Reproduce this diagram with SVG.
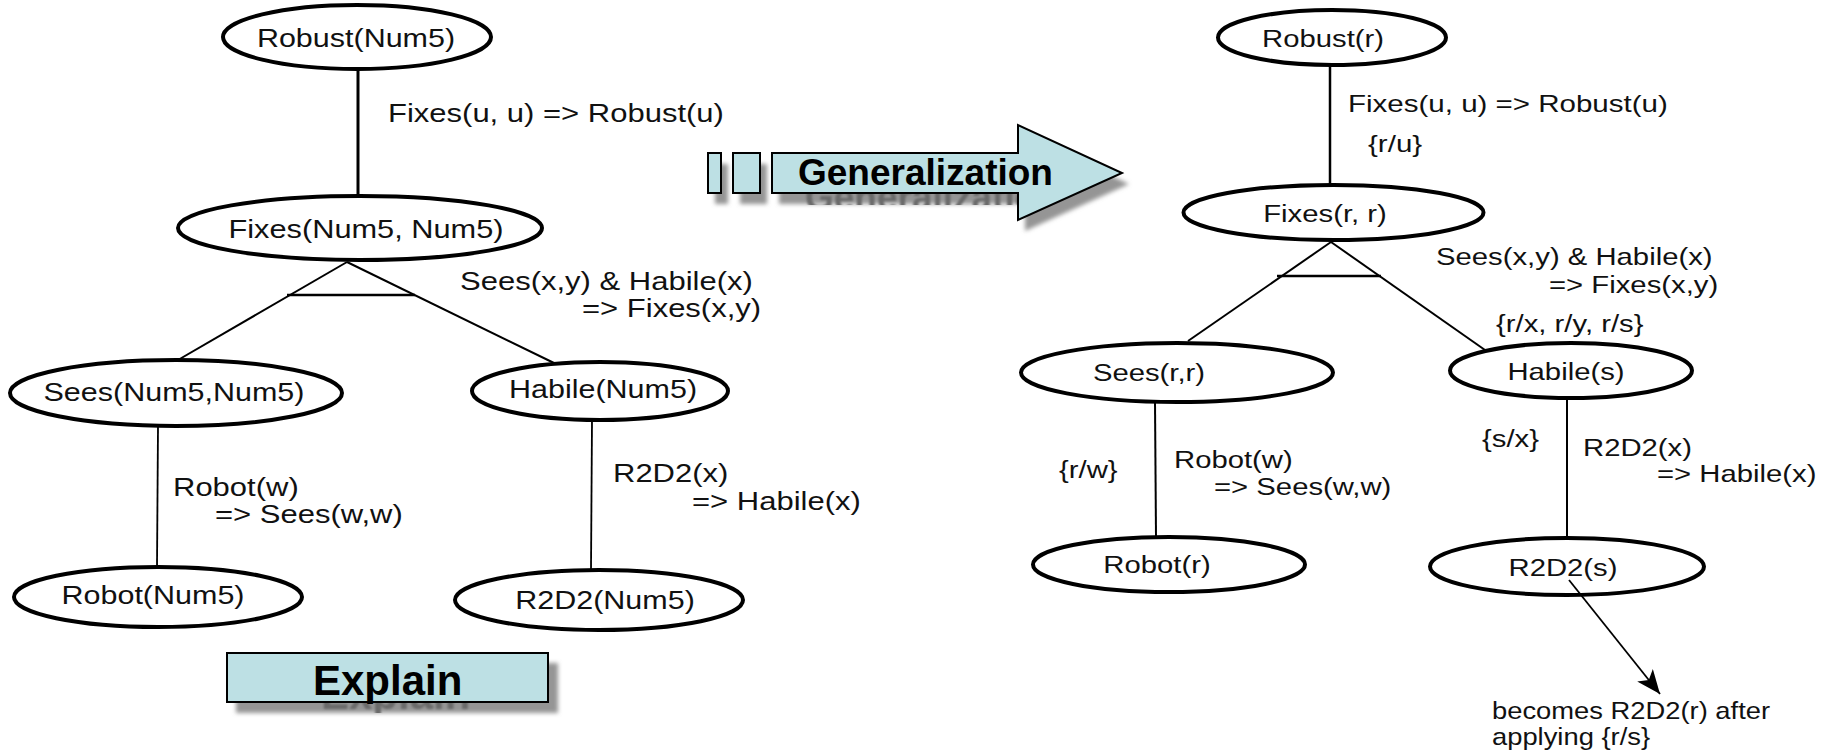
<svg xmlns="http://www.w3.org/2000/svg" width="1828" height="751" viewBox="0 0 1828 751">
<defs>
<style>
.t{font-family:"Liberation Sans",Arial,sans-serif;font-size:25px;fill:#111}
.r{font-size:24px}
.b{font-family:"Liberation Sans",Arial,sans-serif;font-weight:bold;fill:#000}
.node{fill:#fff;stroke:#000;stroke-width:4}
.ln{stroke:#000;fill:none}
.box{fill:#bde0e4;stroke:#000;stroke-width:2}
.sh{fill:#959595}
.gh{fill:#6a6a6a}
</style>
<filter id="blur" x="-10%" y="-30%" width="120%" height="160%"><feGaussianBlur stdDeviation="2"/></filter>
<filter id="soft" x="-5%" y="-30%" width="110%" height="160%"><feGaussianBlur stdDeviation="1"/></filter>
<clipPath id="cg"><rect x="700" y="194" width="330" height="11"/></clipPath>
<clipPath id="ce"><rect x="230" y="703" width="330" height="10"/></clipPath>
<marker id="ah2" viewBox="0 0 24 20" refX="24" refY="10" markerWidth="24" markerHeight="20" markerUnits="userSpaceOnUse" orient="auto"><path d="M0,0 L24,10 L0,20 L6,10 Z" fill="#000"/></marker>
</defs>
<rect width="1828" height="751" fill="#fff"/>

<g id="connectors">
<line class="ln" x1="358" y1="69" x2="358" y2="198" stroke-width="3"/>
<line class="ln" x1="347" y1="262" x2="178" y2="360" stroke-width="2"/>
<line class="ln" x1="347" y1="262" x2="554" y2="363" stroke-width="2"/>
<line class="ln" x1="287" y1="295" x2="415" y2="295" stroke-width="2.5"/>
<line class="ln" x1="158" y1="426" x2="157" y2="567" stroke-width="1.8"/>
<line class="ln" x1="592" y1="420" x2="591" y2="570" stroke-width="1.8"/>

<line class="ln" x1="1330" y1="65" x2="1330" y2="185" stroke-width="2.5"/>
<line class="ln" x1="1331" y1="242" x2="1188" y2="341" stroke-width="2"/>
<line class="ln" x1="1331" y1="242" x2="1485" y2="350" stroke-width="2"/>
<line class="ln" x1="1277" y1="276" x2="1381" y2="276" stroke-width="2.5"/>
<line class="ln" x1="1155" y1="402" x2="1156" y2="537" stroke-width="2"/>
<line class="ln" x1="1567" y1="398" x2="1567" y2="538" stroke-width="2"/>
</g>

<g id="edge-labels">
<text class="t" transform="translate(388,122) scale(1.24 1)">Fixes(u, u) =&gt; Robust(u)</text>
<text class="t" transform="translate(460,290) scale(1.24 1)">Sees(x,y) &amp; Habile(x)</text>
<text class="t" transform="translate(582,317) scale(1.24 1)">=&gt; Fixes(x,y)</text>
<text class="t" transform="translate(173,496) scale(1.24 1)">Robot(w)</text>
<text class="t" transform="translate(215,523) scale(1.24 1)">=&gt; Sees(w,w)</text>
<text class="t" transform="translate(613,482) scale(1.24 1)">R2D2(x)</text>
<text class="t" transform="translate(692,510) scale(1.24 1)">=&gt; Habile(x)</text>

<text class="t r" transform="translate(1348,112) scale(1.23 1)">Fixes(u, u) =&gt; Robust(u)</text>
<text class="t r" transform="translate(1368,152) scale(1.23 1)">{r/u}</text>
<text class="t r" transform="translate(1436,265) scale(1.22 1)">Sees(x,y) &amp; Habile(x)</text>
<text class="t r" transform="translate(1549,293) scale(1.22 1)">=&gt; Fixes(x,y)</text>
<text class="t r" transform="translate(1496,332) scale(1.22 1)">{r/x, r/y, r/s}</text>
<text class="t r" transform="translate(1059,478) scale(1.22 1)">{r/w}</text>
<text class="t r" transform="translate(1174,468) scale(1.22 1)">Robot(w)</text>
<text class="t r" transform="translate(1214,495) scale(1.22 1)">=&gt; Sees(w,w)</text>
<text class="t r" transform="translate(1482,447) scale(1.22 1)">{s/x}</text>
<text class="t r" transform="translate(1583,456) scale(1.22 1)">R2D2(x)</text>
<text class="t r" transform="translate(1657,482) scale(1.22 1)">=&gt; Habile(x)</text>
<text class="t r" transform="translate(1492,719) scale(1.14 1)">becomes R2D2(r) after</text>
<text class="t r" transform="translate(1492,745) scale(1.14 1)">applying {r/s}</text>
</g>

<g id="n-robust-num5"><ellipse class="node" cx="357" cy="37" rx="134" ry="32"/><text class="t" text-anchor="middle" transform="translate(356,47) scale(1.22 1)">Robust(Num5)</text></g>
<g id="n-fixes-num5"><ellipse class="node" cx="360" cy="228" rx="182" ry="32"/><text class="t" text-anchor="middle" transform="translate(366,238) scale(1.23 1)">Fixes(Num5, Num5)</text></g>
<g id="n-sees-num5"><ellipse class="node" cx="176" cy="393" rx="166" ry="33"/><text class="t" text-anchor="middle" transform="translate(174,401) scale(1.22 1)">Sees(Num5,Num5)</text></g>
<g id="n-habile-num5"><ellipse class="node" cx="600" cy="391" rx="128" ry="29"/><text class="t" text-anchor="middle" transform="translate(603,398) scale(1.22 1)">Habile(Num5)</text></g>
<g id="n-robot-num5"><ellipse class="node" cx="158" cy="597" rx="144" ry="30"/><text class="t" text-anchor="middle" transform="translate(153,604) scale(1.22 1)">Robot(Num5)</text></g>
<g id="n-r2d2-num5"><ellipse class="node" cx="599" cy="600" rx="144" ry="30"/><text class="t" text-anchor="middle" transform="translate(605,609) scale(1.22 1)">R2D2(Num5)</text></g>

<g id="n-robust-r"><ellipse class="node" cx="1332" cy="37.5" rx="114" ry="27.5" stroke-width="5"/><text class="t r" text-anchor="middle" transform="translate(1323,47) scale(1.22 1)">Robust(r)</text></g>
<g id="n-fixes-r"><ellipse class="node" cx="1333.5" cy="212.5" rx="150" ry="27.5" stroke-width="5"/><text class="t r" text-anchor="middle" transform="translate(1325,222) scale(1.22 1)">Fixes(r, r)</text></g>
<g id="n-sees-r"><ellipse class="node" cx="1177" cy="372.5" rx="156" ry="29.5" stroke-width="5"/><text class="t r" text-anchor="middle" transform="translate(1149,381) scale(1.22 1)">Sees(r,r)</text></g>
<g id="n-habile-s"><ellipse class="node" cx="1571" cy="370.5" rx="121" ry="27.5" stroke-width="5"/><text class="t r" text-anchor="middle" transform="translate(1566,380) scale(1.22 1)">Habile(s)</text></g>
<g id="n-robot-r"><ellipse class="node" cx="1169" cy="564.5" rx="136" ry="27.5" stroke-width="5"/><text class="t r" text-anchor="middle" transform="translate(1157,573) scale(1.22 1)">Robot(r)</text></g>
<g id="n-r2d2-s"><ellipse class="node" cx="1567" cy="566.5" rx="137" ry="28.5" stroke-width="5"/><text class="t r" text-anchor="middle" transform="translate(1563,576) scale(1.22 1)">R2D2(s)</text></g>

<g id="result-arrow">
<line class="ln" x1="1569" y1="580" x2="1660" y2="694" stroke-width="1.8" marker-end="url(#ah2)"/>
</g>

<g id="generalization">
<g class="sh" filter="url(#blur)" transform="translate(7,11)">
<rect x="708" y="153" width="13" height="40"/>
<rect x="733" y="153" width="27" height="40"/>
<path d="M772,153 H1018 V125 L1122,173 L1018,220 V193 H772 Z"/>
</g>
<g clip-path="url(#cg)"><text class="b gh" font-size="37" transform="translate(805,210)" filter="url(#soft)">Generalization</text></g>
<rect class="box" x="708" y="153" width="13" height="40"/>
<rect class="box" x="733" y="153" width="27" height="40"/>
<path class="box" d="M772,153 H1018 V125 L1122,173 L1018,220 V193 H772 Z"/>
<text class="b" font-size="37" x="798" y="185">Generalization</text>
</g>

<g id="explain">
<rect class="sh" x="236" y="663" width="322" height="50" filter="url(#blur)"/>
<g clip-path="url(#ce)"><text class="b gh" font-size="42" x="321" y="709" filter="url(#soft)">Explain</text></g>
<rect class="box" x="227" y="653" width="321" height="49"/>
<text class="b" font-size="42" x="313" y="695">Explain</text>
</g>
</svg>
